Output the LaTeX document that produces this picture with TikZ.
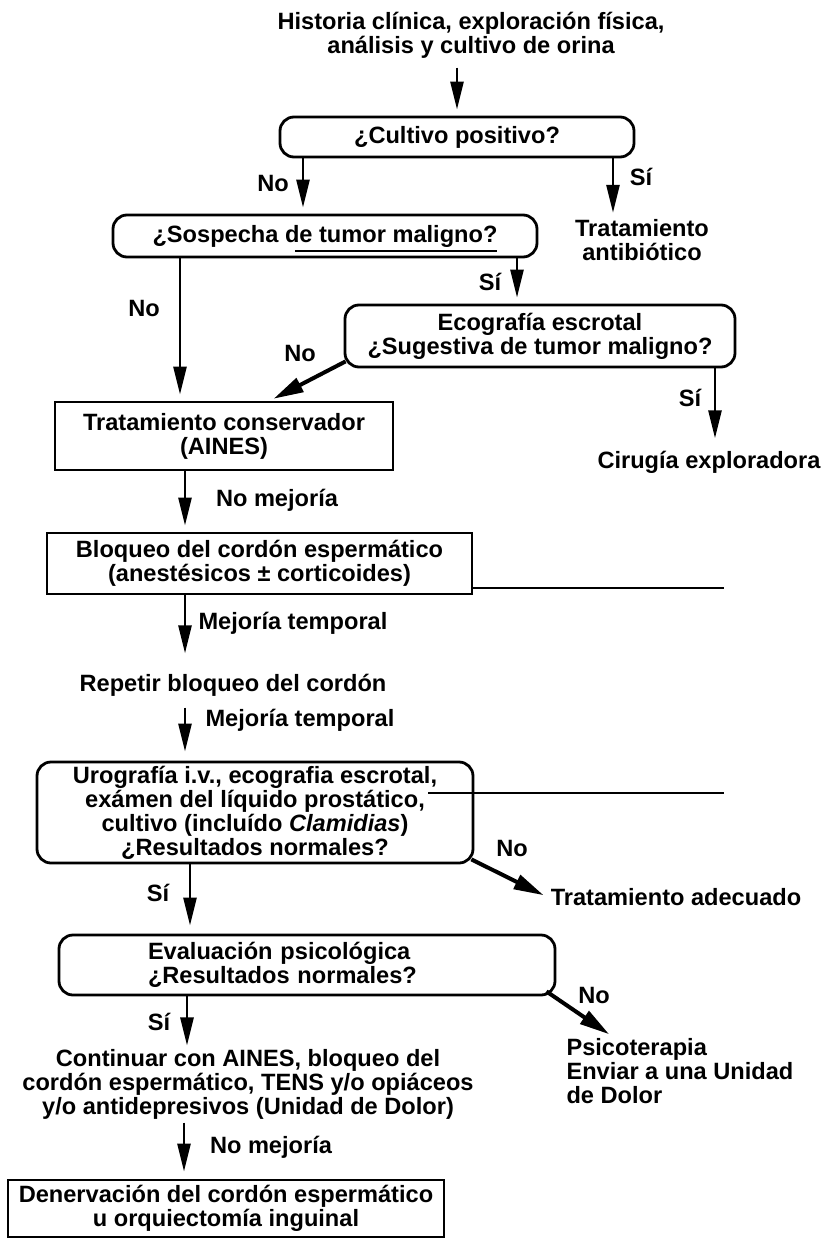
\documentclass[tikz,border=0pt]{standalone}
\usepackage{fontspec}
\setmainfont{Liberation Sans}
\usetikzlibrary{arrows.meta}

\begin{document}
\begin{tikzpicture}
[
	x=1pt,y=-1pt,
	every node/.style={font=\bfseries\fontsize{23.6}{24}\selectfont},
	rb/.style={rectangle,draw,rounded corners=14pt,line width=2.8,align=center},
	sq/.style={rectangle,draw,line width=2.8,align=center},
	txt/.style={align=center},
	arr/.style={line width=2.6,-{Triangle[length=28pt,width=13pt]},shorten >=6pt},
	darr/.style={line width=4,-{Triangle[length=30pt,width=15pt]}}
]

\useasboundingbox (0,0) rectangle (824,1239);

\node[txt] (hist) at (471,35) {Historia clínica, exploración física,\\análisis y cultivo de orina};

\node[rb,minimum width=354,minimum height=40] (c1) at (457,137) {¿Cultivo positivo?};
\node[txt] (tr) at (642,240) {Tratamiento\\antibiótico};

\node[rb,minimum width=424,minimum height=42] (s1) at (325,236) {¿Sospecha de tumor maligno?};
\node[rb,minimum width=390,minimum height=62] (e1) at (540,336) {Ecografía escrotal\\¿Sugestiva de tumor maligno?};
\node[txt] (cir) at (709,462) {Cirugía exploradora};

\node[sq,minimum width=338,minimum height=68] (t1) at (224,436) {Tratamiento conservador\\(AINES)};
\node[sq,minimum width=425,minimum height=61] (b1) at (259.5,563.5) {Bloqueo del cordón espermático\\(anestésicos ± corticoides)};
\node[txt] (rep) at (233,685) {Repetir bloqueo del cordón};

\node[rb,minimum width=436,minimum height=101] (u1) at (255,812.5) {Urografía i.v., ecografia escrotal,\\exámen del líquido prostático,\\cultivo (incluído \textit{Clamidias})\\¿Resultados normales?};
\node[txt] (ade) at (676,897) {Tratamiento adecuado};

\node[rb,minimum width=496,minimum height=60,align=left,text width=318] (ev) at (307,965) {Evaluación psicológica\\¿Resultados normales?};
\node[txt] (con) at (248,1084) {Continuar con AINES, bloqueo del\\cordón espermático, TENS y/o opiáceos\\y/o antidepresivos (Unidad de Dolor)};
\node[txt,anchor=west,align=left] (psi) at (563,1071) {Psicoterapia\\Enviar a una Unidad\\de Dolor};

\node[sq,minimum width=436,minimum height=57] (den) at (226,1208.5) {Denervación del cordón espermático\\u orquiectomía inguinal};

% labels
\node (l1) at (273,183) {No};
\node (l2) at (641,177) {Sí};
\node (l3) at (144,308) {No};
\node (l4) at (490,282) {Sí};
\node (l5) at (300,353) {No};
\node (l6) at (690,398) {Sí};
\node (l7) at (277,500) {No mejoría};
\node (l8) at (293,623) {Mejoría temporal};
\node (l9) at (300,720) {Mejoría temporal};
\node (l10) at (512,848) {No};
\node (l11) at (158,893) {Sí};
\node (l12) at (594,995) {No};
\node (l13) at (159,1022) {Sí};
\node (l14) at (271,1147) {No mejoría};

\draw[arr,shorten <=6pt]	(hist.south -| c1.north)	--	(c1.north);
\draw[arr]	([xshift=-154]c1.south)	--	([xshift=-22]s1.north);
\draw[arr,shorten >=3pt]	([xshift=156]c1.south)	--	([xshift=-29]tr.north);

\draw[arr]	([xshift=-145]s1.south)	--	([xshift=-44]t1.north);
\draw[arr]	([xshift=192]s1.south)	--	([xshift=-23]e1.north);
\draw[darr,shorten >=4pt]	([xshift=2,yshift=7]e1.south west)	--	([xshift=46]t1.north);
\draw[arr,shorten >=9pt]	([xshift=175]e1.south)	--	([xshift=6]cir.north);

\draw[arr]	([xshift=-39]t1.south)	--	([xshift=-74.5]b1.north);
\draw[arr,shorten >=17pt]	([xshift=-74.5]b1.south)	--	([xshift=-48]rep.north);
\draw[arr,shorten <=8pt,shorten >=9pt]	([xshift=-48]rep.south)	--	([xshift=-70]u1.north);

\draw[darr,shorten >=4pt]	([xshift=-3,yshift=5]u1.south east)	--	(ade.west);
\draw[arr,shorten >=8pt]	([xshift=-65]u1.south)	--	([xshift=-117]ev.north);

\draw[darr,shorten >=1pt]	([xshift=-10,yshift=5]ev.south east)	--	([xshift=47]psi.north west);
\draw[arr,shorten >=0pt]	([xshift=-120]ev.south)	--	([xshift=-61]con.north);
\draw[arr,shorten >=7pt]	([xshift=-64]con.south)	--	([xshift=-42]den.north);

% loose lines
\coordinate (lb) at (724,588);
\coordinate (lu0) at (428,793);
\coordinate (lu) at (724,793);
\draw[line width=2.6] (b1.east |- lb) -- (lb);
\draw[line width=2.6] (lu0) -- (lu);
\draw[line width=2.2] (295,251) -- (497,251);

\end{tikzpicture}
\end{document}
